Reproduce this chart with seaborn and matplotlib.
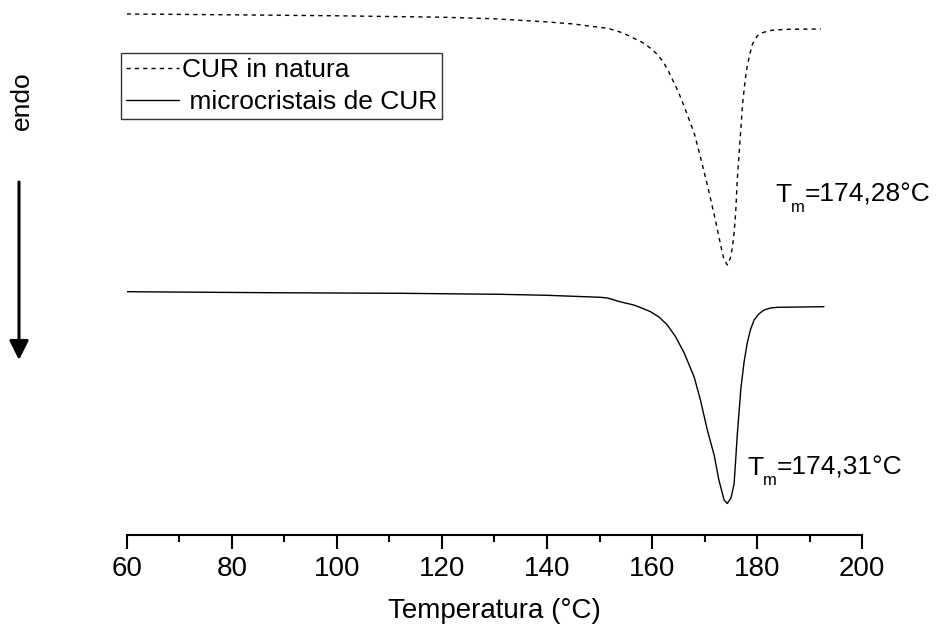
import numpy as np
import pandas as pd
import matplotlib
matplotlib.use("Agg")
import matplotlib.pyplot as plt
import seaborn as sns

# ---- data (heat flow in arbitrary units) ----
temp_natura = [60, 80, 100, 120, 130, 139.4, 145.1, 148, 151.5, 153, 154.6, 156, 158, 159,
               160, 161, 162, 163, 164, 165, 166, 167, 168, 169, 170, 171, 172, 173, 173.6,
               174.3, 174.9, 175.3, 175.6, 175.9, 176.2, 176.6, 177.2, 177.7, 178.1, 178.6,
               179.1, 180, 180.7, 182, 183.2, 186, 192.1]
flow_natura = [5.210, 5.202, 5.192, 5.178, 5.162, 5.133, 5.110, 5.090, 5.067, 5.045, 5.017,
               4.980, 4.930, 4.895, 4.855, 4.805, 4.740, 4.650, 4.540, 4.430, 4.300, 4.160,
               4.020, 3.820, 3.610, 3.390, 3.160, 2.910, 2.770, 2.700, 2.770, 2.883, 3.020,
               3.220, 3.550, 3.850, 4.300, 4.550, 4.690, 4.810, 4.910, 4.990, 5.017, 5.040,
               5.050, 5.057, 5.060]

temp_micro = [60, 86.7, 112.1, 131.1, 140, 150.2, 151.5, 152.5, 153.5, 154.5, 156.5, 158,
              159.7, 161.3, 162.9, 164.5, 166.1, 168, 169.2, 170.5, 171.8, 172.7, 173.7,
              174.3, 175, 175.6, 175.9, 176.2, 176.9, 177.5, 178.1, 178.7, 179.4, 180.3,
              181.3, 182.5, 183.9, 192.7]
flow_micro = [2.433, 2.423, 2.417, 2.407, 2.397, 2.377, 2.370, 2.355, 2.338, 2.325, 2.300,
              2.270, 2.233, 2.180, 2.100, 1.980, 1.820, 1.580, 1.350, 1.050, 0.800, 0.550,
              0.350, 0.315, 0.370, 0.510, 0.750, 1.000, 1.470, 1.730, 1.920, 2.050, 2.150,
              2.210, 2.250, 2.270, 2.277, 2.283]

series_labels = ["CUR in natura", " microcristais de CUR"]
xticks_major = [60, 80, 100, 120, 140, 160, 180, 200]
tm_values = ["=174,28°C", "=174,31°C"]
x_label = "Temperatura (°C)"

# ---- figure ----
sns.set_style("white")
plt.rcParams["font.family"] = ["Liberation Sans", "DejaVu Sans"]
for k in ["text.color", "axes.labelcolor", "xtick.color", "ytick.color"]:
    plt.rcParams[k] = "black"

W, H = 936, 628
fig = plt.figure(figsize=(W / 100, H / 100), dpi=100)
ax = fig.add_axes([126.7 / W, 1 - 535 / H, (862.3 - 126.7) / W, 535 / H])

df_n = pd.DataFrame({"T": temp_natura, "flow": flow_natura})
df_m = pd.DataFrame({"T": temp_micro, "flow": flow_micro})

sns.lineplot(data=df_n, x="T", y="flow", ax=ax, color="black", lw=1.0,
             linestyle=(0, (3, 3)), estimator=None, label=series_labels[0])
sns.lineplot(data=df_m, x="T", y="flow", ax=ax, color="black", lw=1.0,
             estimator=None, label=series_labels[1])

ax.set_xlim(60, 200)
ax.set_ylim(0, 5.35)
ax.set_xticks(xticks_major)
ax.set_xticks(np.arange(70, 200, 20), minor=True)
ax.tick_params(axis="x", which="major", direction="out", length=10, width=1.5,
               labelsize=20, pad=5, bottom=True, colors="black")
ax.tick_params(axis="x", which="minor", direction="out", length=5, width=1.5,
               bottom=True, colors="black")
ax.set_yticks([])
for s in ["left", "right", "top"]:
    ax.spines[s].set_visible(False)
ax.spines["bottom"].set_linewidth(1.5)
ax.spines["bottom"].set_color("black")
ax.set_xlabel(x_label, fontsize=20, labelpad=12, color="black")
ax.set_ylabel("")


def tm_label(x, y, value):
    t = ax.text(x, y, "T", fontsize=19, va="baseline", ha="left", color="black")
    m = ax.annotate("m", xy=(1, 0), xycoords=t, xytext=(0, -3.5),
                    textcoords="offset points", fontsize=12, va="baseline",
                    ha="left", color="black")
    ax.annotate(value, xy=(1, 0), xycoords=(m, t), fontsize=19, va="bottom",
                ha="left", color="black")


tm_label(183.4, 3.33, tm_values[0])
tm_label(178.1, 0.60, tm_values[1])

# legend
leg = ax.legend(loc="upper left", bbox_to_anchor=(121 / W, 1 - 53 / H),
                bbox_transform=fig.transFigure, fontsize=19, frameon=True,
                fancybox=False, edgecolor="black", borderaxespad=0, borderpad=0.2,
                handlelength=2.0, handletextpad=0.1, labelspacing=0.3)
leg.get_frame().set_linewidth(1.0)
for txt in leg.get_texts():
    txt.set_color("black")

# endo label and arrow
fig.text(22 / W, 1 - 101 / H, "endo", rotation=90, fontsize=19, ha="center",
         va="center", color="black")
fig.add_artist(matplotlib.patches.FancyArrowPatch(
    (19 / W, 1 - 182 / H), (19 / W, 1 - 360 / H), transform=fig.transFigure,
    arrowstyle="-|>,head_length=0.4,head_width=0.2", mutation_scale=29,
    lw=2.2, color="black", shrinkA=0, shrinkB=0))

fig.savefig("out.png", dpi=100)
